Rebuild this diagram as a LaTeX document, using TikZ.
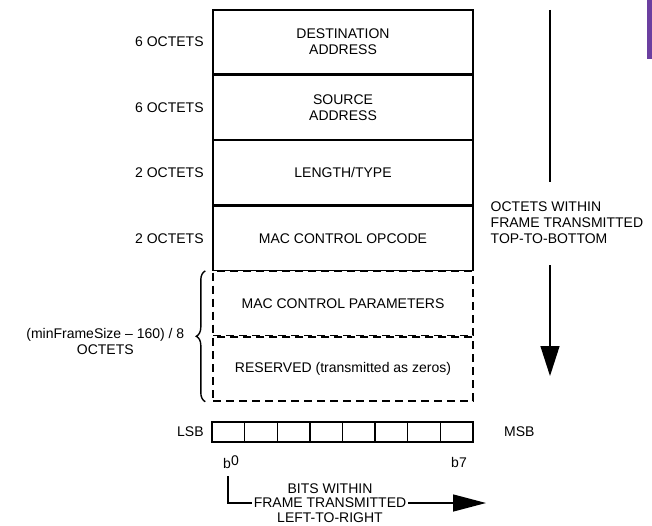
\documentclass[tikz,border=0pt]{standalone}
\usepackage{fontspec}
\setmainfont{Liberation Sans}
\usetikzlibrary{positioning,arrows.meta,decorations.pathreplacing}
\definecolor{barpurple}{RGB}{107,63,160}
\begin{document}
\begin{tikzpicture}[x=1pt, y=-1pt, line width=1.4pt]
        \tikzset{field/.style={rectangle, draw, minimum width=260pt, minimum height=64pt, align=center, font=\fontsize{14}{16}\selectfont},
            dfield/.style={field, dash pattern=on 8pt off 5pt},
            octets/.style={inner sep=0pt, align=center, font=\fontsize{14}{16}\selectfont},
            bitcell/.style={rectangle, draw, minimum width=32.6pt, minimum height=20pt, inner sep=0pt},
            bigtip/.style={-{Triangle[length=30pt, width=19pt]}}}
        \useasboundingbox (0,0) rectangle (652,526);
        \fill[barpurple] (647,0) rectangle (652,59);
        \node[field] (dest) at (343,42) {DESTINATION\\ADDRESS};
        \node[field, below=0pt of dest] (src) {SOURCE\\ADDRESS};
        \node[field, below=0pt of src] (lentype) {LENGTH/TYPE};
        \node[field, below=0pt of lentype] (opcode) {MAC CONTROL OPCODE};
        \node[dfield, below=0pt of opcode] (params) {MAC CONTROL PARAMETERS};
        \node[dfield, below=0pt of params] (reserved) {RESERVED (transmitted as zeros)};
        \node[octets, left=8pt of dest] (o1) {6 OCTETS};
        \node[octets, left=8pt of src] (o2) {6 OCTETS};
        \node[octets, left=8pt of lentype] (o3) {2 OCTETS};
        \node[octets, left=8pt of opcode] (o4) {2 OCTETS};
        \draw[line width=1.4pt, decorate, decoration={brace, amplitude=9pt}]
            ([xshift=-7pt]reserved.south west) -- ([xshift=-7pt]params.north west);
        \node[octets, anchor=east] (onvar) at (185,341) {(minFrameSize – 160) / 8\\OCTETS};
        \foreach \i in {0,...,7}
            \node[bitcell] (bit\i) at ({212+32.6*(\i+0.5)},432) {};
        \node[octets, left=7pt of bit0] (lsb) {LSB};
        \node[octets, right=30pt of bit7] (msb) {MSB};
        \node[octets] (b0) at (231,462) {b\raisebox{3pt}{0}};
        \node[octets] (b7) at (459,462) {b7};
        \coordinate (ttop) at (550,10);
        \coordinate (tmida) at (550,182);
        \coordinate (tmidb) at (550,265);
        \coordinate (tend) at (550,376);
        \draw (ttop) -- (tmida);
        \draw[bigtip] (tmidb) -- (tend);
        \node[octets, align=left, anchor=west] (toptxt) at (490,223) {OCTETS WITHIN\\FRAME TRANSMITTED\\TOP-TO-BOTTOM};
        \coordinate (bstart) at (228,476);
        \coordinate (bend) at (486,503);
        \draw[-{Triangle[length=33pt, width=17pt]}] (bstart) |- (bend);
        \node[octets, fill=white, inner xsep=2pt, font=\fontsize{14}{14.5}\selectfont] (bitstxt) at (330,503) {BITS WITHIN\\FRAME TRANSMITTED\\LEFT-TO-RIGHT};
    \end{tikzpicture}
\end{document}
